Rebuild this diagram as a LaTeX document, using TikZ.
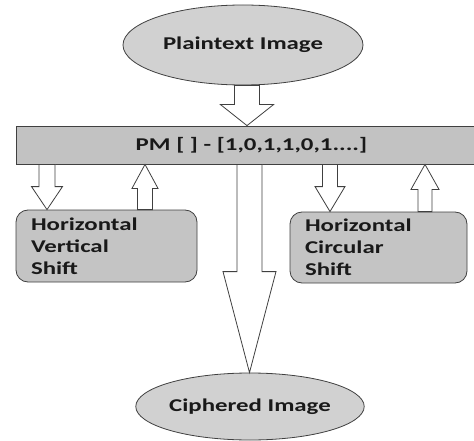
\documentclass[tikz,border=0pt]{standalone}
\usepackage{fontspec}
\setmainfont{Carlito}[FakeStretch=1.38]
\usetikzlibrary{shapes.geometric,calc}

\definecolor{ovalgray}{gray}{0.82}
\definecolor{bargray}{gray}{0.76}
\definecolor{boxgray}{gray}{0.77}
\definecolor{edgegray}{gray}{0.25}
\definecolor{inkgray}{gray}{0.1}

\tikzset{
  oval/.style={ellipse, draw=edgegray, fill=ovalgray, line width=0.8pt, inner sep=0pt,
    font=\bfseries\fontsize{18}{22}\selectfont, text=inkgray},
  bar/.style={rectangle, draw=edgegray, fill=bargray, line width=0.8pt, inner sep=0pt,
    font=\bfseries\fontsize{18}{22}\selectfont, text=inkgray},
  shiftbox/.style={rectangle, rounded corners=12pt, draw=edgegray, fill=boxgray, line width=0.8pt,
    inner xsep=15pt, inner ysep=0pt, align=left,
    font=\bfseries\fontsize{18}{22}\selectfont, text=inkgray},
  blockarr/.style={draw=edgegray, fill=white, line width=0.8pt, line join=miter},
}

% vertical block arrow: #1 centre x, #2 start point, #3 tip point,
% #4 half shaft width, #5 half head width, #6 head length
\newcommand\blockarrow[6]{%
  \draw[blockarr] let \p1=(#2), \p2=(#3), \n1={sign(\y2-\y1)} in
    ({#1pt-#4pt},\y1) -- ({#1pt-#4pt},{\y2-(\n1)*#6pt}) -- ({#1pt-#5pt},{\y2-(\n1)*#6pt})
    -- (#1pt,\y2) -- ({#1pt+#5pt},{\y2-(\n1)*#6pt}) -- ({#1pt+#4pt},{\y2-(\n1)*#6pt})
    -- ({#1pt+#4pt},\y1) -- cycle;}

\begin{document}
\begin{tikzpicture}[x=1pt,y=1pt]
  \useasboundingbox (0,0) rectangle (474,440);

  % nodes
  \node[oval, minimum width=240pt, minimum height=80pt] (plain) at (243,395) {Plaintext Image};
  \node[bar, minimum width=464pt, minimum height=38pt, anchor=west] (pm) at (16,295)
    {\hspace*{6pt}PM [ ] - [1,0,1,1,0,1....]};
  \node[shiftbox, minimum width=181pt, minimum height=72pt, text width=151pt] (hv) at (106.5,194)
    {Horizontal\\Vertical\\Shift};
  \node[shiftbox, minimum width=177pt, minimum height=71pt, text width=147pt] (hc) at (378.5,192.5)
    {Horizontal\\Circular\\Shift};
  \node[oval, minimum width=220pt, minimum height=67pt] (ciph) at (250,33.5) {Ciphered Image};

  % connectors
  \blockarrow{247}{plain.south}{pm.north}{12.5}{26.5}{21}
  \blockarrow{47}{pm.south}{hv.north}{8}{15.5}{23}
  \blockarrow{145}{hv.north}{pm.south}{7.5}{13}{24}
  \blockarrow{330}{pm.south}{hc.north}{7.5}{15}{25}
  \blockarrow{425}{hc.north}{pm.south}{7}{14}{25}
  \blockarrow{249.5}{pm.south}{ciph.north}{12.5}{26.5}{101}
\end{tikzpicture}
\end{document}
